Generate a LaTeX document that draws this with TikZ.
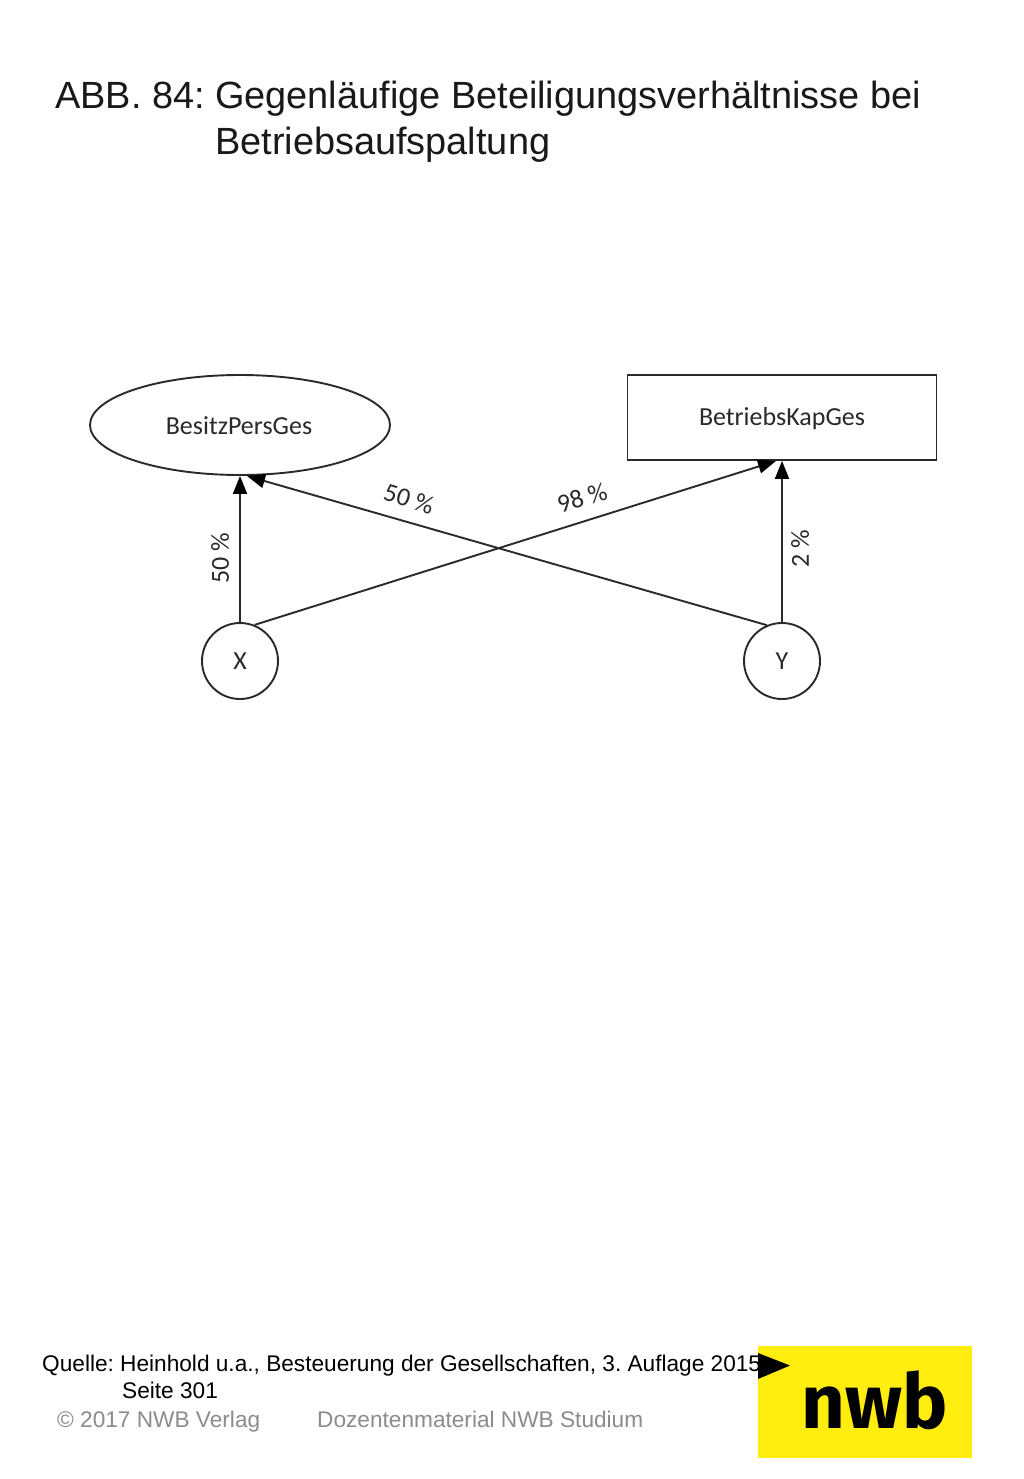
\documentclass[tikz,border=0pt]{standalone}
\usepackage{fontspec}
\setmainfont{Liberation Sans}
\newfontfamily\diafont{Carlito}
\newfontfamily\logofont{Fira Sans}
\usetikzlibrary{shapes.geometric,arrows.meta}
\definecolor{logoyellow}{HTML}{FFED10}
\definecolor{footgrey}{HTML}{8C8C8C}
\definecolor{linecol}{HTML}{2A2A2A}
\tikzset{
  title/.style={anchor=base west,inner sep=0pt,font=\fontsize{37.9}{40}\selectfont\frenchspacing,text=black!90},
  foot/.style={anchor=base west,inner sep=0pt,font=\fontsize{22.65}{26}\selectfont\frenchspacing},
  greyfoot/.style={foot,text=footgrey},
  dia/.style={font=\diafont\fontsize{26}{28}\selectfont,text=linecol,inner sep=0pt},
  edgelabel/.style={dia},
  conn/.style={draw=linecol,line width=1.9pt,-{Triangle[length=18pt,width=14pt,color=black]}},
  partner/.style={circle,draw=linecol,line width=1.9pt,minimum size=76pt,dia},
}
\begin{document}
\begin{tikzpicture}[x=1pt,y=-1pt]
\useasboundingbox (0,0) rectangle (1024,1479);
\fill[white] (0,0) rectangle (1024,1479);
\node[title] (t1) at (55,108.5) {ABB. 84:};
\node[title] (t2) at (215,108.5) {Gegenläufige Beteiligungsverhältnisse bei};
\node[title] (t3) at (215,154.5) {Betriebsaufspaltung};
\node[ellipse,draw=linecol,line width=1.9pt,minimum width=300pt,minimum height=100pt,inner sep=0pt] (bes) at (240,425) {};
\node[dia] (bestext) at (239,426) {BesitzPersGes};
\node[rectangle,draw=linecol,line width=1.9pt,minimum width=309pt,minimum height=85pt,inner sep=0pt] (bet) at (782,417.5) {};
\node[dia] (bettext) at (782,418.5) {BetriebsKapGes};
\node[partner] (x) at (240,661) {X};
\node[partner] (y) at (782,661) {Y};
\coordinate (bestip) at (247,476);
\coordinate (bettip) at (776,461);
\draw[conn] (x.north) -- (bes.south);
\draw[conn] (y.north) -- (bet.south -| y.north);
\draw[conn] (x.68) -- (bettip);
\draw[conn] (y.113) -- (bestip);
\node[edgelabel,rotate=90] (l1) at (220,558) {50 \%};
\node[edgelabel,rotate=-17] (l2) at (409,499) {50 \%};
\node[edgelabel,rotate=17] (l3) at (582,498) {98 \%};
\node[edgelabel,rotate=90] (l4) at (800,549) {2 \%};
\fill[logoyellow] (758,1346) rectangle (972,1458);
\fill[black] (758,1353) -- (790,1365.5) -- (758,1379) -- cycle;
\node[anchor=base,inner sep=0pt,font=\logofont\bfseries\fontsize{76}{80}\selectfont] (nwb) at (875,1428) {nwb};
\node[foot] (q1) at (42,1371) {Quelle: Heinhold u.a., Besteuerung der Gesellschaften, 3. Auflage 2015};
\node[foot] (q2) at (122,1398) {Seite 301};
\node[greyfoot] (c1) at (57,1427) {© 2017 NWB Verlag};
\node[greyfoot] (c2) at (317,1427) {Dozentenmaterial NWB Studium};
\end{tikzpicture}
\end{document}
